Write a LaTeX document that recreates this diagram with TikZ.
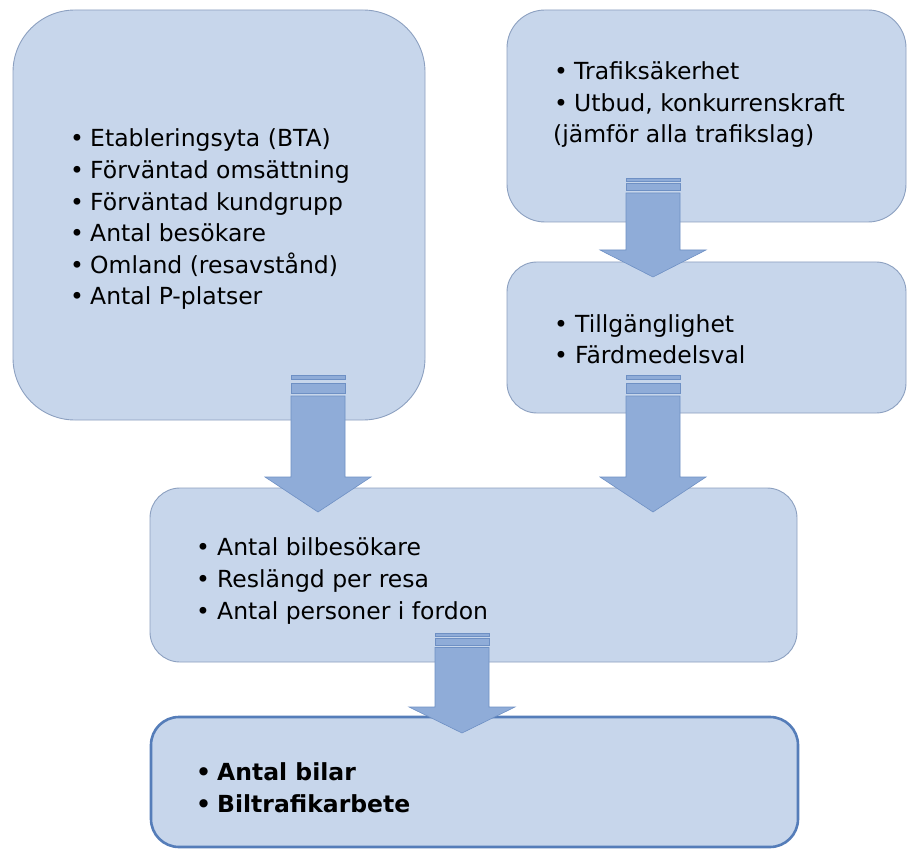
\documentclass[tikz,border=0pt]{standalone}
\usepackage{fontspec}
\setmainfont{DejaVu Sans}
\usetikzlibrary{calc}
\definecolor{boxfill}{RGB}{199,214,235}
\definecolor{boxline}{RGB}{140,160,192}
\definecolor{boldline}{RGB}{85,125,185}
\definecolor{arrfill}{RGB}{143,172,216}
\definecolor{arrline}{RGB}{110,144,196}
\newcommand{\bul}[1]{\makebox[#1pt][l]{•}}
\newcommand{\blockarr}[4]{%
  \filldraw[arrowstyle] let \p1=(#1), \p2=(#2) in
    (\x1-27pt,\y1-#4*1pt) -- (\x1+27pt,\y1-#4*1pt) -- (\x1+27pt,\y2+#3*1pt)
    -- (\x1+53pt,\y2+#3*1pt) -- (\x1,\y2) -- (\x1-53pt,\y2+#3*1pt)
    -- (\x1-27pt,\y2+#3*1pt) -- cycle;
  \filldraw[arrowstyle] let \p1=(#1) in
    (\x1-27pt,\y1) rectangle (\x1+27pt,\y1-0.2*#4*1pt);
  \filldraw[arrowstyle] let \p1=(#1) in
    (\x1-27pt,\y1-0.38*#4*1pt) rectangle (\x1+27pt,\y1-0.85*#4*1pt);
}
\begin{document}
\begin{tikzpicture}[x=1pt,y=-1pt,
  box/.style={draw=boxline, fill=boxfill, line width=0.9pt, inner sep=0pt},
  boldbox/.style={draw=boldline, fill=boxfill, line width=2.6pt, inner sep=0pt},
  arrowstyle/.style={fill=arrfill, draw=arrline, line width=0.6pt},
  txt/.style={anchor=base west, inner sep=0pt, font=\fontsize{23.5}{28}\selectfont},
  btxt/.style={txt, font=\fontsize{23.5}{28}\selectfont\bfseries}]
\useasboundingbox (0,0) rectangle (910,850);
\fill[white] (0,0) rectangle (910,850);

% boxes
\node[box, rounded corners=62pt, minimum width=412pt, minimum height=410pt] (L) at (219,215) {};
\node[box, rounded corners=38pt, minimum width=399pt, minimum height=212pt] (TR) at (706.5,116) {};
\node[box, rounded corners=30pt, minimum width=399pt, minimum height=151pt] (MR) at (706.5,337.5) {};
\node[box, rounded corners=30pt, minimum width=647pt, minimum height=174pt] (M) at (473.5,575) {};
\node[boldbox, rounded corners=28pt, minimum width=647pt, minimum height=130pt] (B) at (474.5,782) {};

% arrow end points
\coordinate (a1s) at (318,375); \coordinate (a1t) at (318,512);
\coordinate (a2s) at (653,375); \coordinate (a2t) at (653,512);
\coordinate (a3s) at (653,178); \coordinate (a3t) at (653,277);
\coordinate (a4s) at (462,633); \coordinate (a4t) at (462,733);

\blockarr{a1s}{a1t}{35}{21}
\blockarr{a2s}{a2t}{35}{21}
\blockarr{a3s}{a3t}{27}{15}
\blockarr{a4s}{a4t}{26}{14.5}

% texts left box
\node[txt] (l1) at (70,147)   {\bul{20}Etableringsyta (BTA)};
\node[txt] (l2) at (70,178.6) {\bul{20}Förväntad omsättning};
\node[txt] (l3) at (70,210.2) {\bul{20}Förväntad kundgrupp};
\node[txt] (l4) at (70,241.8) {\bul{20}Antal besökare};
\node[txt] (l5) at (70,273.4) {\bul{20}Omland (resavstånd)};
\node[txt] (l6) at (70,305)   {\bul{20}Antal P-platser};

% top right
\node[txt] (t1) at (554,80)  {\bul{20}Trafiksäkerhet};
\node[txt] (t2) at (554,112) {\bul{20}Utbud, konkurrenskraft};
\node[txt] (t3) at (553,143) {(jämför alla trafikslag)};

% middle right
\node[txt] (r1) at (554,332) {\bul{21}Tillgänglighet};
\node[txt] (r2) at (554,363) {\bul{21}Färdmedelsval};

% middle
\node[txt] (m1) at (196,555) {\bul{21}Antal bilbesökare};
\node[txt] (m2) at (196,587) {\bul{21}Reslängd per resa};
\node[txt] (m3) at (196,619) {\bul{21}Antal personer i fordon};

% bottom
\node[btxt] (b1) at (196,780) {\bul{21}Antal bilar};
\node[btxt] (b2) at (196,812) {\bul{21}Biltrafikarbete};
\end{tikzpicture}
\end{document}
